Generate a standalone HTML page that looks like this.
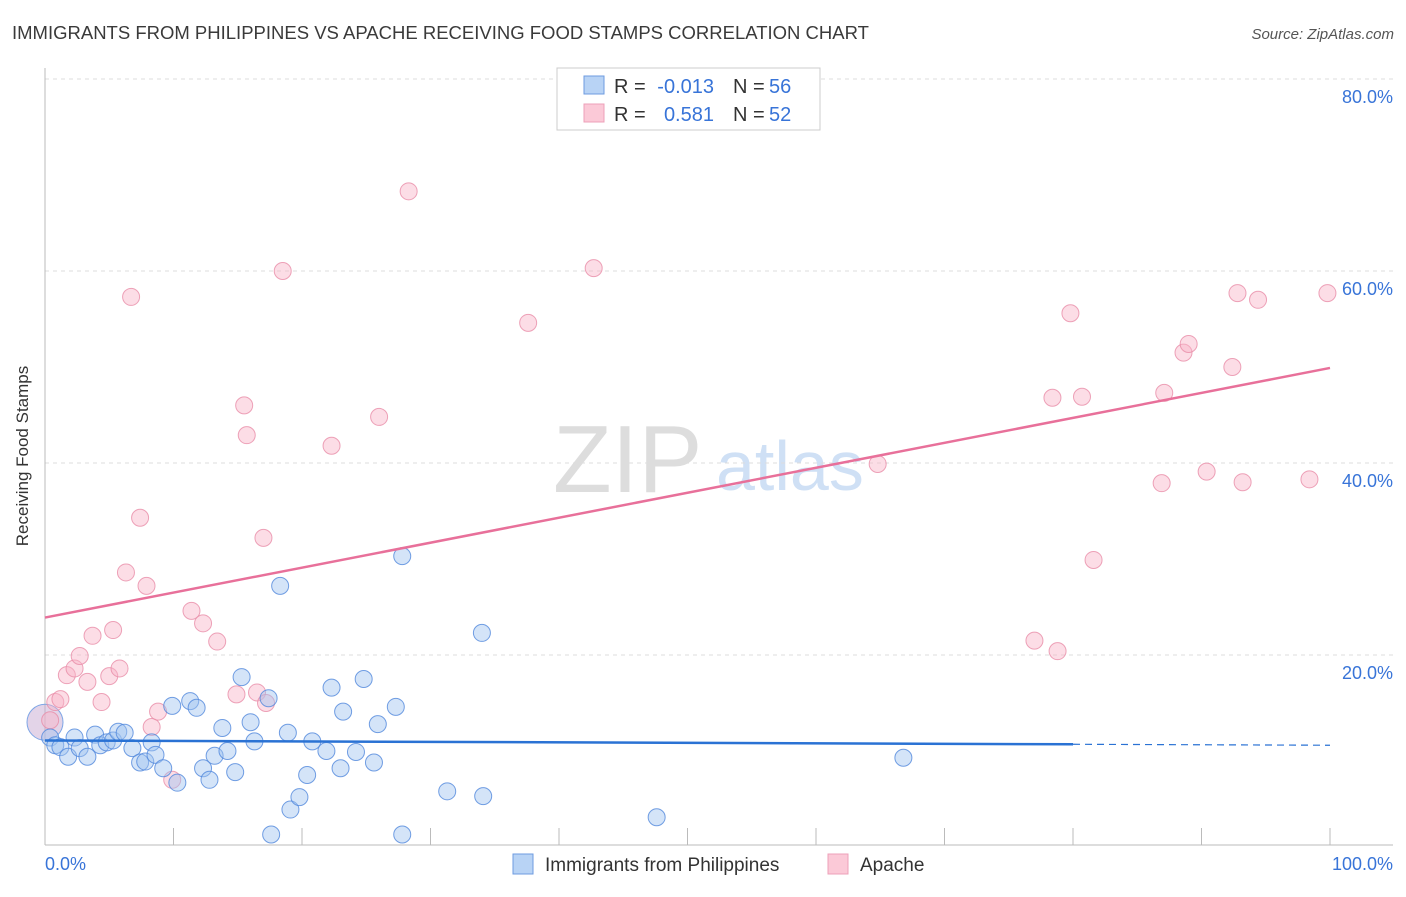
<!DOCTYPE html>
<html><head><meta charset="utf-8"><style>
body{margin:0;background:#fff;font-family:"Liberation Sans",sans-serif;}
svg text{font-family:"Liberation Sans",sans-serif;}
</style></head><body>
<svg id="chart" width="1406" height="892">
<text x="12" y="39" font-size="18.5" fill="#3a3a3a">IMMIGRANTS FROM PHILIPPINES VS APACHE RECEIVING FOOD STAMPS CORRELATION CHART</text>
<text x="1394" y="39" font-size="15" fill="#555" text-anchor="end" font-style="italic">Source: ZipAtlas.com</text>
<text x="28" y="456" font-size="17" fill="#333" text-anchor="middle" transform="rotate(-90 28 456)">Receiving Food Stamps</text>
<text x="553" y="492" font-size="96" fill="#ddd" font-family="Liberation Serif">ZIP</text>
<text x="716" y="490" font-size="70" fill="#cfe0f5">atlas</text>
<g id="grid"></g><g id="axes"></g><g id="pts"></g><g id="trends"></g>
<g>
<rect x="557" y="68" width="263" height="62" fill="#fff" stroke="#ccc"/>
<rect x="584" y="76" width="20" height="18" fill="#b8d3f5" stroke="#6e9be0"/>
<rect x="584" y="104" width="20" height="18" fill="#fbc9d7" stroke="#eea0b8"/>
<text x="614" y="93" font-size="20" fill="#333">R =</text>
<text x="714" y="93" font-size="20" fill="#3874d8" text-anchor="end">-0.013</text>
<text x="733" y="93" font-size="20" fill="#333">N =</text>
<text x="769" y="93" font-size="20" fill="#3874d8">56</text>
<text x="614" y="121" font-size="20" fill="#333">R =</text>
<text x="714" y="121" font-size="20" fill="#3874d8" text-anchor="end">0.581</text>
<text x="733" y="121" font-size="20" fill="#333">N =</text>
<text x="769" y="121" font-size="20" fill="#3874d8">52</text>
</g>
<g>
<rect x="513" y="854" width="20" height="20" fill="#b8d3f5" stroke="#6e9be0"/>
<text x="545" y="871" font-size="19" fill="#333">Immigrants from Philippines</text>
<rect x="828" y="854" width="20" height="20" fill="#fbc9d7" stroke="#eea0b8"/>
<text x="860" y="871" font-size="19" fill="#333">Apache</text>
</g>
<text x="45" y="870" font-size="18" fill="#3874d8">0.0%</text>
<text x="1393" y="870" font-size="18" fill="#3874d8" text-anchor="end">100.0%</text>
</svg>
<script>
const yTicks=[20,40,60,80];
const yTickLabels=["20.0%","40.0%","60.0%","80.0%"];
const blueX=[0.4,0.8,1.2,1.8,2.3,2.7,3.3,3.9,4.3,4.8,5.3,5.7,6.2,6.8,7.4,7.8,8.3,8.6,9.2,9.9,10.3,11.3,11.8,12.3,12.8,13.2,13.8,14.2,14.8,15.3,16.0,16.3,17.4,17.6,18.3,18.9,19.1,19.8,20.4,20.8,21.9,22.3,23.0,23.2,24.2,24.8,25.6,25.9,27.3,27.8,27.8,31.3,34.0,34.1,47.6,66.8];
const blueY=[11.4,10.6,10.4,9.4,11.4,10.3,9.4,11.7,10.6,10.9,11.1,12.0,11.9,10.3,8.8,8.9,10.9,9.6,8.2,14.7,6.7,15.2,14.5,8.2,7.0,9.5,12.4,10.0,7.8,17.7,13.0,11.0,15.5,1.3,27.2,11.9,3.9,5.2,7.5,11.0,10.0,16.6,8.2,14.1,9.9,17.5,8.8,12.8,14.6,30.3,1.3,5.8,22.3,5.3,3.1,9.3];
const pinkX=[0.4,0.8,1.2,1.7,2.3,2.7,3.3,3.7,4.4,5.0,5.3,5.8,6.3,6.7,7.4,7.9,8.3,8.8,9.9,11.4,12.3,13.4,14.9,15.5,15.7,16.5,17.0,17.2,18.5,22.3,26.0,28.3,37.6,42.7,64.8,77.0,78.4,78.8,79.8,80.7,81.6,86.9,87.1,88.6,89.0,90.4,92.4,92.8,93.2,94.4,98.4,99.8];
const pinkY=[13.2,15.1,15.4,17.9,18.6,19.9,17.2,22.0,15.1,17.8,22.6,18.6,28.6,57.3,34.3,27.2,12.5,14.1,7.0,24.6,23.3,21.4,15.9,46.0,42.9,16.1,32.2,15.0,60.0,41.8,44.8,68.3,54.6,60.3,39.9,21.5,46.8,20.4,55.6,46.9,29.9,37.9,47.3,51.5,52.4,39.1,50.0,57.7,38.0,57.0,38.3,57.7];
const pinkTrend=[23.9,49.9];
const blueTrend=[11.1,10.6];
const NS="http://www.w3.org/2000/svg";
const X=v=>45+v*12.85, Y=v=>847-v*9.6;
function mk(t,a,p){const e=document.createElementNS(NS,t);for(const k in a)e.setAttribute(k,a[k]);p.appendChild(e);return e;}
const grid=document.getElementById('grid'),axes=document.getElementById('axes'),pts=document.getElementById('pts'),tr=document.getElementById('trends');
yTicks.forEach((t,i)=>{
 const l=mk('line',{x1:45,x2:1393,y1:Y(t),y2:Y(t),stroke:'#ddd','stroke-dasharray':'4,4'},grid);
 
 
 const tx=mk('text',{x:1393,y:Y(t)+24,'font-size':18,fill:'#3874d8','text-anchor':'end'},grid);
 tx.textContent=yTickLabels[i];
 
 
});
mk('line',{x1:45,x2:45,y1:68,y2:845,stroke:'#bbb'},axes);
mk('line',{x1:45,x2:1393,y1:845,y2:845,stroke:'#bbb'},axes);
for(let i=1;i<=10;i++){const l=mk('line',{x1:X(i*10),x2:X(i*10),y1:828,y2:845,stroke:'#bbb'},axes);
 
 }
const big=mk('circle',{cx:X(0),cy:Y(13),r:18,fill:'rgba(200,170,210,0.5)',stroke:'#7ea6e6'},pts);


pinkX.forEach((x,i)=>{const c=mk('circle',{cx:X(x),cy:Y(pinkY[i]),r:8.5,fill:'rgba(248,180,200,0.45)',stroke:'rgba(232,140,168,0.8)'},pts);
 
 });
blueX.forEach((x,i)=>{const c=mk('circle',{cx:X(x),cy:Y(blueY[i]),r:8.5,fill:'rgba(160,196,240,0.45)',stroke:'rgba(80,135,220,0.8)'},pts);
 
 });
const pl=mk('line',{x1:X(0),y1:Y(pinkTrend[0]),x2:X(100),y2:Y(pinkTrend[1]),stroke:'#e8709a','stroke-width':2.5},tr);


const yb=p=>blueTrend[0]+(blueTrend[1]-blueTrend[0])*p/100;
const bl=mk('line',{x1:X(0),y1:Y(yb(0)),x2:X(80),y2:Y(yb(80)),stroke:'#2a72d4','stroke-width':2.5},tr);


const bd=mk('line',{x1:X(80),y1:Y(yb(80)),x2:X(100),y2:Y(yb(100)),stroke:'#2a72d4','stroke-width':1.2,'stroke-dasharray':'7,5'},tr);


</script>
</body></html>
